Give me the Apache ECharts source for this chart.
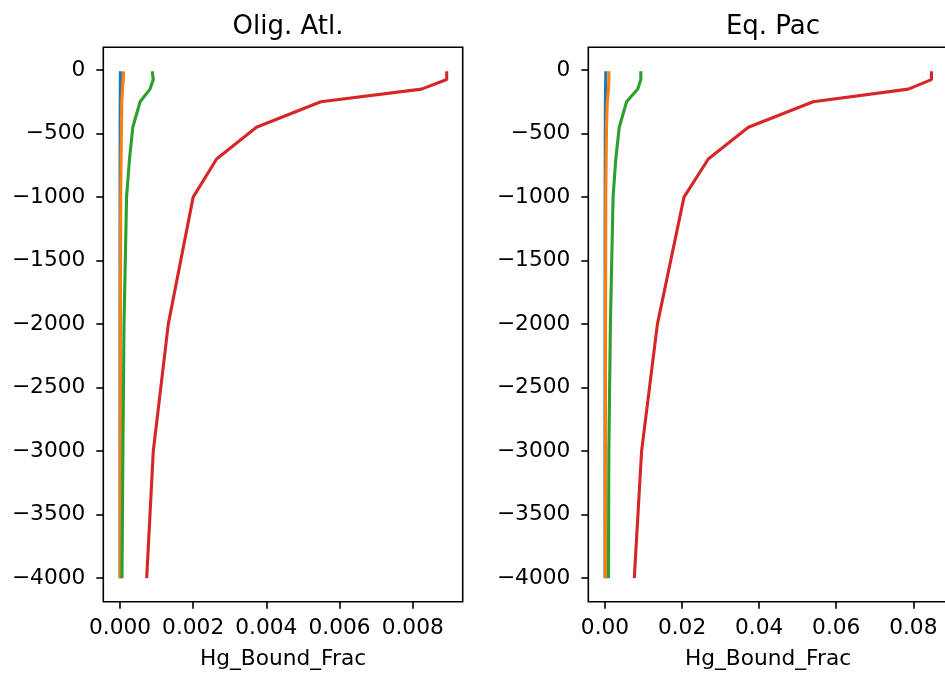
<!DOCTYPE html>
<html>
<head>
<meta charset="utf-8">
<script src="https://cdn.jsdelivr.net/npm/echarts@6/dist/echarts.min.js"></script>
<style>
html,body{margin:0;padding:0;background:#fff;}
#chart{width:945px;height:673px;}
</style>
</head>
<body>
<div id="chart"></div>
<script>
// Depth levels (m)
const depths = [-10, -75, -150, -250, -450, -700, -1000, -2000, -3000, -4000];

// Panel titles
const panelTitles = ['Olig. Atl.', 'Eq. Pac'];

// Olig. Atl. series (Hg_Bound_Frac)
const atlBlue   = [0.00001, 0.00001, 0.000008, 0.000006, 0.000004, 0.000003, 0.000002, 0.000001, 0.000001, 0.000001];
const atlOrange = [0.00010, 0.00009, 0.00007, 0.00005, 0.00004, 0.00003, 0.00002, 0.00001, 0.00001, 0.00001];
const atlGreen  = [0.00088, 0.00091, 0.00082, 0.00055, 0.00035, 0.00026, 0.00018, 0.00011, 0.00008, 0.000055];
const atlRed    = [0.00893, 0.00893, 0.00824, 0.00549, 0.00373, 0.00264, 0.00200, 0.00132, 0.00091, 0.00073];

// Eq. Pac series (Hg_Bound_Frac)
const pacBlue   = [0.0002, 0.0002, 0.00015, 0.0001, 0.00008, 0.00006, 0.00004, 0.00002, 0.00001, 0.00001];
const pacOrange = [0.0010, 0.0010, 0.0009, 0.0006, 0.0004, 0.0003, 0.0002, 0.00015, 0.0001, 0.0001];
const pacGreen  = [0.0093, 0.0093, 0.0085, 0.0056, 0.0037, 0.0028, 0.0021, 0.0014, 0.0010, 0.0009];
const pacRed    = [0.0847, 0.0847, 0.0787, 0.0540, 0.0372, 0.0268, 0.0205, 0.0136, 0.0095, 0.0076];

// Tick labels
const yTicks = [0, -500, -1000, -1500, -2000, -2500, -3000, -3500, -4000];
const atlXTicks = [0, 0.002, 0.004, 0.006, 0.008];
const pacXTicks = [0, 0.02, 0.04, 0.06, 0.08];
const xName = 'Hg_Bound_Frac';

const colors = ['#1f77b4', '#ff7f0e', '#2ca02c', '#d62728'];
const FONT = 'DejaVu Sans';
const TICK_FS = 21.7;
const TITLE_FS = 26;

function pairs(vals) { return vals.map((v, i) => [v, depths[i]]); }
function minus(s) { return String(s).replace('-', '\u2212'); }

const gTop = 47.3, gHeight = 554.4, gWidth = 359.4;
const grids = [
  { left: 103.3, top: gTop, width: gWidth, height: gHeight, show: true, borderColor: '#000', borderWidth: 1.6, backgroundColor: 'transparent', containLabel: false, outerBoundsMode: 'none' },
  { left: 588.3, top: gTop, width: gWidth, height: gHeight, show: true, borderColor: '#000', borderWidth: 1.6, backgroundColor: 'transparent', containLabel: false, outerBoundsMode: 'none' }
];

function makeX(idx, min, max, ticks, dec) {
  return {
    type: 'value', gridIndex: idx, min: min, max: max, position: 'bottom',
    name: xName, nameLocation: 'middle', nameGap: 47,
    nameTextStyle: { fontFamily: FONT, fontSize: TICK_FS, color: '#000' },
    axisLine: { show: false, onZero: false },
    axisTick: { show: true, length: 7, customValues: ticks, lineStyle: { color: '#000', width: 1.6 } },
    axisLabel: { show: true, margin: 16, customValues: ticks, fontFamily: FONT, fontSize: TICK_FS, color: '#000',
      formatter: v => minus(Number(v).toFixed(dec)) },
    splitLine: { show: false }
  };
}
function makeY(idx) {
  return {
    type: 'value', gridIndex: idx, min: -4185, max: 179, position: 'left',
    axisLine: { show: false, onZero: false },
    axisTick: { show: true, length: 7, customValues: yTicks, lineStyle: { color: '#000', width: 1.6 } },
    axisLabel: { show: true, margin: 18, customValues: yTicks, fontFamily: FONT, fontSize: TICK_FS, color: '#000',
      formatter: v => minus(Math.round(v)) },
    splitLine: { show: false }
  };
}

function line(idx, vals, c) {
  return {
    type: 'line', xAxisIndex: idx, yAxisIndex: idx, data: pairs(vals),
    showSymbol: false, symbol: 'none', smooth: false,
    lineStyle: { color: c, width: 3.1 }, itemStyle: { color: c },
    emphasis: { disabled: true }, silent: true
  };
}

const option = {
  animation: false,
  backgroundColor: '#fff',
  textStyle: { fontFamily: FONT },
  title: [
    { text: panelTitles[0], left: 283, top: 9, textAlign: 'center',
      textStyle: { fontFamily: FONT, fontSize: TITLE_FS, fontWeight: 'normal', color: '#000' } },
    { text: panelTitles[1], left: 768, top: 9, textAlign: 'center',
      textStyle: { fontFamily: FONT, fontSize: TITLE_FS, fontWeight: 'normal', color: '#000' } }
  ],
  grid: grids,
  xAxis: [
    makeX(0, -0.000456, 0.009367, atlXTicks, 3),
    makeX(1, -0.00433, 0.08892, pacXTicks, 2)
  ],
  yAxis: [makeY(0), makeY(1)],
  series: [
    line(0, atlBlue, colors[0]), line(0, atlOrange, colors[1]), line(0, atlGreen, colors[2]), line(0, atlRed, colors[3]),
    line(1, pacBlue, colors[0]), line(1, pacOrange, colors[1]), line(1, pacGreen, colors[2]), line(1, pacRed, colors[3])
  ]
};

const chart = echarts.init(document.getElementById('chart'), null, { renderer: 'canvas' });
chart.setOption(option);
</script>
</body>
</html>
